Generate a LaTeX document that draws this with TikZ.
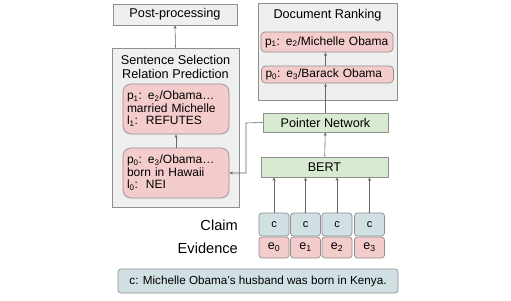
\documentclass[tikz,border=0pt]{standalone}
\usepackage{fontspec}
\setmainfont{Liberation Sans}
\usetikzlibrary{arrows.meta}
\definecolor{panelgray}{HTML}{EFEFEF}
\definecolor{edgegray}{HTML}{8F8F8F}
\definecolor{arrowgray}{HTML}{666666}
\definecolor{pinkfill}{HTML}{F4CCCC}
\definecolor{greenfill}{HTML}{D9EAD3}
\definecolor{bluefill}{HTML}{D0E0E3}
\tikzset{
	panel/.style={draw=edgegray, fill=panelgray, line width=0.7pt, inner sep=0pt},
	pinkcard/.style={draw=edgegray, fill=pinkfill, line width=0.7pt, rounded corners=8pt, text width=98pt, inner xsep=4pt, align=left, font=\fontsize{12}{12.5}\selectfont},
	rankcard/.style={draw=edgegray, fill=pinkfill, line width=0.7pt, rounded corners=4pt, text width=124pt, inner xsep=4pt, inner ysep=0pt, align=left, font=\fontsize{12}{14}\selectfont},
	greenbar/.style={draw=edgegray, fill=greenfill, line width=0.7pt, inner sep=0pt, font=\fontsize{12.6}{14}\selectfont},
	claimcell/.style={draw=edgegray, fill=bluefill, line width=0.7pt, rounded corners=3pt, minimum width=30pt, minimum height=23pt, inner sep=0pt, font=\fontsize{11}{13}\selectfont},
	evcell/.style={draw=edgegray, fill=pinkfill, line width=0.7pt, rounded corners=3pt, minimum width=30pt, minimum height=21pt, inner sep=0pt, font=\fontsize{12.5}{14}\selectfont},
	rowlabel/.style={anchor=east, inner sep=0pt, font=\fontsize{14.6}{16}\selectfont},
	arr/.style={draw=arrowgray, line width=0.6pt, -{Stealth[length=3.5pt,width=3pt]}}
}
\begin{document}
	\begin{tikzpicture}[x=1pt,y=-1pt]
		\useasboundingbox (0,0) rectangle (511,300);
		% left column
		\node[panel, minimum width=124pt, minimum height=21pt, font=\fontsize{12.7}{14}\selectfont] (post) at (175,14.5) {Post-processing};
		\node[panel, minimum width=127pt, minimum height=159pt] (selpanel) at (175.5,127.5) {};
		\node[align=center, inner sep=0pt, font=\fontsize{12.7}{14}\selectfont] (seltitle) at (175.5,67) {Sentence Selection\\Relation Prediction};
		\node[pinkcard, minimum height=50pt] (sp1) at (176,109) {p\textsubscript{1}: e\textsubscript{2}/Obama\ldots\\married Michelle\\l\textsubscript{1}:\ \ REFUTES};
		\node[pinkcard, minimum height=50pt] (sp0) at (176,173) {p\textsubscript{0}: e\textsubscript{3}/Obama\ldots\\born in Hawaii\\l\textsubscript{0}:\ \ NEI};
		% right column
		\node[panel, minimum width=139pt, minimum height=97pt] (docpanel) at (327.5,51.5) {};
		\node[inner sep=0pt, font=\fontsize{12.7}{14}\selectfont] (doctitle) at (327.5,15) {Document Ranking};
		\node[rankcard, minimum height=20pt] (dp1) at (327,42) {p\textsubscript{1}: e\textsubscript{2}/Michelle Obama};
		\node[rankcard, minimum height=17pt] (dp0) at (327.5,74.5) {p\textsubscript{0}: e\textsubscript{3}/Barack Obama};
		\node[greenbar, minimum width=125pt, minimum height=19pt] (pointer) at (325.5,122.5) {Pointer Network};
		\node[greenbar, minimum width=127pt, minimum height=20pt] (bert) at (324.5,167) {BERT};
		% input tokens
		\node[rowlabel] (claimlbl) at (238,225) {Claim};
		\node[rowlabel] (evlbl) at (238,248) {Evidence};
		\node[claimcell] (c0) at (274,224.5) {c};
		\node[claimcell] (c1) at (305.5,224.5) {c};
		\node[claimcell] (c2) at (337,224.5) {c};
		\node[claimcell] (c3) at (369.5,224.5) {c};
		\node[evcell] (e0) at (274,247.5) {e\textsubscript{0}};
		\node[evcell] (e1) at (305.5,247.5) {e\textsubscript{1}};
		\node[evcell] (e2) at (337,247.5) {e\textsubscript{2}};
		\node[evcell] (e3) at (369.5,247.5) {e\textsubscript{3}};
		\node[draw=edgegray, fill=bluefill, line width=0.7pt, rounded corners=3pt, minimum width=280pt, minimum height=24pt, inner sep=0pt, font=\fontsize{11.7}{13}\selectfont] (claimtext) at (258,281) {c: Michelle Obama's husband was born in Kenya.};
		% arrows
		\coordinate (turn) at (246,123);
		\draw[arr] (c0.north) -- (c0.north |- bert.south);
		\draw[arr] (c1.north) -- (c1.north |- bert.south);
		\draw[arr] (c2.north) -- (c2.north |- bert.south);
		\draw[arr] (c3.north) -- (c3.north |- bert.south);
		\draw[arr] (bert) -- (pointer);
		\draw[arr] (pointer.north) -- (pointer.north |- dp0.south);
		\draw[arr] (pointer.north |- dp0.north) -- (pointer.north |- dp1.south);
		\draw[arr] (pointer.west) -- (turn) |- (sp0.east);
		\draw[arr] (sp0) -- (sp1);
		\draw[arr] (selpanel.north) -- (post.south);
	\end{tikzpicture}
\end{document}
